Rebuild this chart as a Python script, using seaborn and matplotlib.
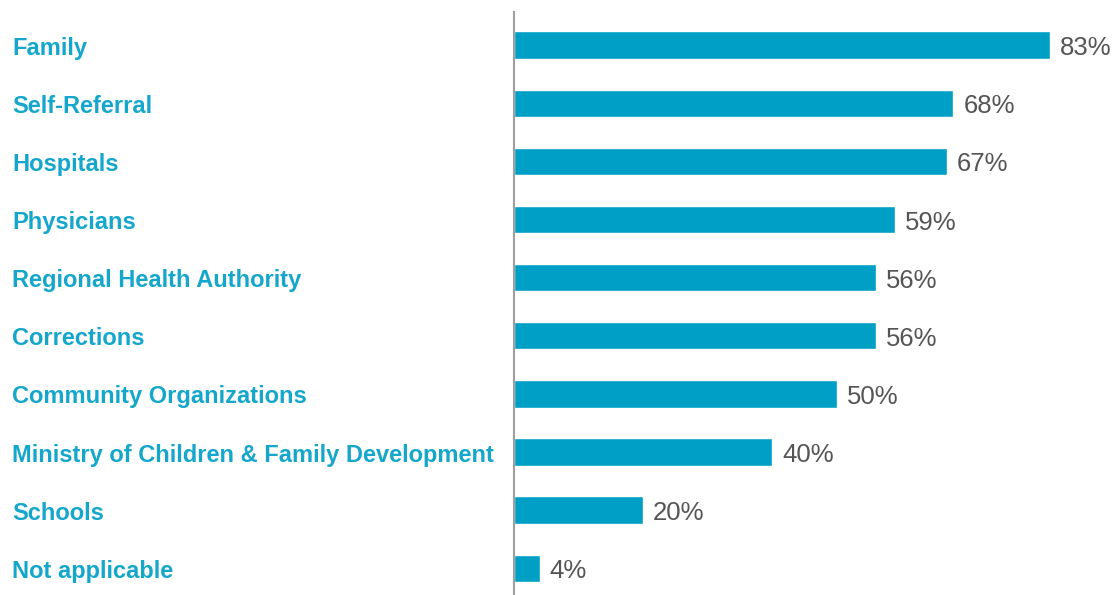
import matplotlib
matplotlib.use("Agg")
import matplotlib.pyplot as plt
import seaborn as sns
import pandas as pd

categories = [
    "Family", "Self-Referral", "Hospitals", "Physicians",
    "Regional Health Authority", "Corrections", "Community Organizations",
    "Ministry of Children & Family Development", "Schools", "Not applicable",
]
values = [83, 68, 67, 59, 56, 56, 50, 40, 20, 4]

df = pd.DataFrame({"source": categories, "pct": values})

sns.set_theme(style="white")
plt.rcParams["font.family"] = ["Liberation Sans", "DejaVu Sans"]

bar_color = "#00a0c6"
label_color = "#14a7cb"
value_color = "#555555"

fig = plt.figure(figsize=(11.19, 5.95), dpi=100)
ax = fig.add_axes([514 / 1119, 0, 1 - 514 / 1119, 1 - 12 / 595])

sns.barplot(data=df, x="pct", y="source", orient="h", color=bar_color,
            saturation=1, width=0.47, ax=ax)

ax.set_xlim(0, (1119 - 514) / 6.46)
ax.set_ylim(len(categories) - 1 + 0.46, -0.57)

for i, v in enumerate(values):
    ax.annotate(f"{v}%", xy=(v, i), xytext=(10, -3), textcoords="offset pixels",
                va="center", ha="left", fontsize=18.5, color=value_color)

ax.set_yticks([])
ax.set_xticks([])
ax.set_xlabel("")
ax.set_ylabel("")
for side in ["top", "right", "bottom"]:
    ax.spines[side].set_visible(False)
ax.spines["left"].set_color("#a0a0a0")
ax.spines["left"].set_linewidth(1.5)

for i, name in enumerate(categories):
    ax.annotate(name, xy=(0, i), xycoords=("figure fraction", "data"),
                xytext=(12, -3), textcoords="offset pixels",
                va="center", ha="left", fontsize=17, fontweight="bold",
                color=label_color)

fig.savefig("out.png", dpi=100)
